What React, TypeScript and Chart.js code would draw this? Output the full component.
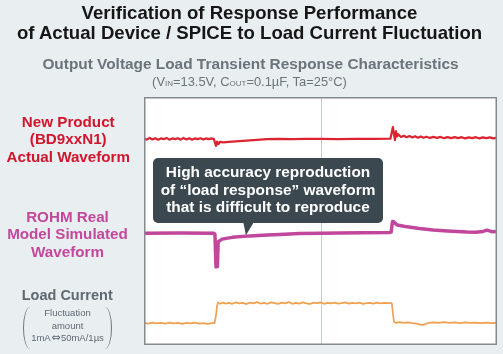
import React, { useEffect, useRef } from "react";
import { Chart, registerables } from "chart.js";

Chart.register(...registerables);

// Oscilloscope screen: 10 horizontal divisions (0..100), vertical position 0..100
const timeRange: [number, number] = [0, 100];
const levelRange: [number, number] = [0, 100];
const centerDivision = 50;

// New Product (BD9xxN1) actual output waveform  [time, level]
const actualWaveform: [number, number][] = [
  [0, 83.3], [0.8, 82.8], [1.6, 83.5], [2.4, 82.9], [3.2, 83.4], [4.0, 82.8], [4.8, 83.3], [5.6, 83.0],
  [6.4, 83.5], [7.2, 82.8], [8.0, 83.3], [8.8, 83.0], [9.6, 83.4], [10.4, 82.8], [11.2, 83.5], [12.0, 82.9],
  [12.8, 83.4], [13.6, 82.8], [14.4, 83.3], [15.2, 83.0], [16.0, 83.4], [16.8, 82.9], [17.6, 83.3], [18.4, 83.0],
  [19.2, 83.3], [19.8, 83.0], [20.1, 81.6], [20.4, 80.3], [20.7, 82.0], [21.1, 81.0], [21.5, 81.9], [22.5, 81.7],
  [24, 81.9], [26, 82.1], [28, 82.3], [30, 82.5], [32, 82.7], [34.8, 83.0], [38, 83.1], [42, 83.0],
  [46, 83.1], [50, 83.1], [55, 83.0], [60, 83.1], [65, 83.1], [69.8, 83.2], [70.2, 85.8], [70.5, 87.9],
  [70.8, 85.2], [71.1, 82.6], [71.4, 86.2], [71.7, 84.1], [72.0, 85.0], [72.8, 83.9], [73.6, 84.4], [74.4, 83.8],
  [75.2, 84.3], [76.0, 83.7], [76.8, 84.2], [77.6, 83.6], [78.4, 84.1], [79.2, 83.6], [80, 84.0], [81, 83.5],
  [82, 83.9], [83, 83.5], [84, 83.9], [85, 83.4], [86, 83.8], [87, 83.4], [88, 83.8], [89, 83.4],
  [90, 83.8], [91, 83.3], [92, 83.7], [93, 83.4], [94, 83.8], [95, 83.3], [96, 83.7], [97, 83.4],
  [98, 83.7], [99, 83.3], [100, 83.6],
];

// ROHM Real Model simulated waveform  [time, level]
const simulatedWaveform: [number, number][] = [
  [0, 45.1], [10, 45.2], [19.8, 45.1], [20.1, 44.6], [20.4, 31.5], [20.8, 31.6], [21.0, 41.6], [22.1, 42.7],
  [25, 43.4], [30, 44.0], [35, 44.4], [38.5, 44.6], [44, 45.0], [50, 45.1], [55.5, 45.2], [62, 45.3],
  [69.7, 45.4], [70.0, 45.5], [70.4, 49.8], [70.8, 49.6], [71.7, 48.4], [74, 47.8], [78, 47.0], [81.9, 46.4],
  [86, 46.0], [91.5, 45.6], [94, 45.5], [96, 45.8], [97.2, 46.3], [98.5, 45.7], [100, 45.8],
];

// Load current step 1mA <-> 50mA  [time, level]
const loadCurrent: [number, number][] = [
  [0, 8.9], [1.2, 8.6], [2.4, 9.0], [3.6, 8.7], [4.8, 8.9], [6, 8.6], [7.2, 9.0], [8.4, 8.7],
  [9.6, 8.9], [10.8, 8.5], [12, 8.9], [13.2, 8.7], [14.4, 9.0], [15.6, 8.6], [16.8, 8.8], [18, 8.5],
  [19.2, 8.8], [20.0, 8.8], [20.4, 12.0], [20.7, 15.8], [21.0, 17.2], [21.6, 16.6], [22.4, 17.1], [23.2, 16.7],
  [24, 17.0], [25, 16.6], [26, 17.2], [27, 16.8], [28, 17.0], [29, 16.5], [30, 17.1], [31, 16.8],
  [32, 17.3], [33, 16.7], [34, 17.0], [35, 16.6], [36, 17.2], [37, 16.9], [38, 16.6], [39, 17.1],
  [40, 16.8], [41, 17.3], [42, 16.6], [43, 17.0], [44, 16.7], [45, 17.2], [46, 16.8], [47, 16.5],
  [48, 17.1], [49, 16.9], [50, 17.2], [51, 16.6], [52, 17.0], [53, 16.8], [54, 17.1], [55, 16.7],
  [56, 16.9], [57, 17.2], [58, 16.7], [59, 17.0], [60, 16.8], [61, 17.1], [62, 16.6], [63, 16.9],
  [64, 17.0], [65, 16.7], [66, 17.1], [67, 16.8], [68, 17.0], [69, 16.9], [70.2, 16.9], [70.5, 13.0],
  [70.8, 9.4], [71.4, 8.9], [72.4, 9.2], [73.6, 8.9], [74.8, 9.1], [76, 8.8], [77.2, 8.6], [78.2, 8.2],
  [79, 8.1], [79.6, 8.4], [80.5, 8.9], [82, 9.1], [83.5, 8.9], [85, 9.2], [86.5, 8.9], [88, 9.1],
  [89.5, 8.8], [91, 9.1], [92.5, 8.9], [94, 9.0], [95.5, 8.8], [97, 9.0], [98.5, 8.8], [100, 8.9],
];

const titleLines = [
  "Verification of Response Performance",
  "of Actual Device / SPICE to Load Current Fluctuation",
];
const subtitle = "Output Voltage Load Transient Response Characteristics";
const actualLabel = ["New Product", "(BD9xxN1)", "Actual Waveform"];
const simulatedLabel = ["ROHM Real", "Model Simulated", "Waveform"];
const loadLabel = "Load Current";
const loadNote = ["Fluctuation", "amount"];
const loadRange = ["1mA", "\u21D4", "50mA/1\u00B5s"];
const calloutLines = [
  "High accuracy reproduction",
  "of \u201Cload response\u201D waveform",
  "that is difficult to reproduce",
];

const FONT = '"Liberation Sans", Arial, Helvetica, sans-serif';

const toPoints = (arr: [number, number][]) => arr.map(([x, y]) => ({ x, y }));

export default function App() {
  const ref = useRef<HTMLCanvasElement | null>(null);

  useEffect(() => {
    document.body.style.margin = "0";
    const frame = {
      id: "scopeFrame",
      beforeDatasetsDraw(chart: any) {
        const { ctx, chartArea: a, scales } = chart;
        ctx.save();
        ctx.fillStyle = "#ffffff";
        ctx.fillRect(a.left, a.top, a.right - a.left, a.bottom - a.top);
        const cx = Math.round(scales.x.getPixelForValue(centerDivision)) + 0.5;
        ctx.strokeStyle = "#c6cbcf";
        ctx.lineWidth = 1;
        ctx.beginPath();
        ctx.moveTo(cx, a.top);
        ctx.lineTo(cx, a.bottom);
        ctx.stroke();
        ctx.restore();
      },
      afterDatasetsDraw(chart: any) {
        const { ctx, chartArea: a } = chart;
        ctx.save();
        ctx.strokeStyle = "#838b91";
        ctx.lineWidth = 1.5;
        ctx.strokeRect(a.left + 0.75, a.top + 0.75, a.right - a.left - 1.5, a.bottom - a.top - 1.5);
        ctx.restore();
      },
    };
    const chart = new Chart(ref.current as HTMLCanvasElement, {
      type: "line",
      data: {
        datasets: [
          {
            label: "Actual",
            data: toPoints(actualWaveform),
            borderColor: "#dc2430",
            borderWidth: 2.2,
          },
          {
            label: "Simulated",
            data: toPoints(simulatedWaveform),
            borderColor: "#c0479b",
            borderWidth: 3.5,
          },
          {
            label: "Load",
            data: toPoints(loadCurrent),
            borderColor: "#f0a04e",
            borderWidth: 1.7,
          },
        ],
      },
      options: {
        animation: false,
        responsive: false,
        devicePixelRatio: 1,
        layout: { padding: { left: 144, right: 6, top: 97, bottom: 9 } },
        scales: {
          x: { type: "linear", min: timeRange[0], max: timeRange[1], display: false },
          y: { type: "linear", min: levelRange[0], max: levelRange[1], display: false },
        },
        elements: {
          point: { radius: 0 },
          line: { tension: 0, borderJoinStyle: "round", borderCapStyle: "round" },
        },
        plugins: { legend: { display: false }, tooltip: { enabled: false }, title: { display: false } },
      },
      plugins: [frame],
    });
    return () => chart.destroy();
  }, []);

  const abs = (s: React.CSSProperties): React.CSSProperties => ({ position: "absolute", ...s });

  return (
    <div
      style={{
        position: "fixed",
        left: 0,
        top: 0,
        width: 503,
        height: 354,
        background: "#e9eef1",
        overflow: "hidden",
        fontFamily: FONT,
      }}
    >
      <canvas ref={ref} width={503} height={354} style={{ position: "absolute", left: 0, top: 0, width: 503, height: 354 }} />

      <div style={abs({ left: -2, top: 2.6, width: 503, textAlign: "center", fontWeight: 700, fontSize: 18.6, lineHeight: "20px", color: "#161616", whiteSpace: "nowrap" })}>
        {titleLines.map((t) => (
          <div key={t}>{t}</div>
        ))}
      </div>
      <div style={abs({ left: -1, top: 54.6, width: 503, textAlign: "center", fontWeight: 700, fontSize: 15.4, lineHeight: "17px", color: "#6a747a", whiteSpace: "nowrap" })}>
        {subtitle}
      </div>
      <div style={abs({ left: -2, top: 74, width: 503, textAlign: "center", fontSize: 12.9, lineHeight: "15px", color: "#6a747a", whiteSpace: "nowrap" })}>
        (V<span style={{ fontSize: "0.62em" }}>IN</span>=13.5V, C<span style={{ fontSize: "0.62em" }}>OUT</span>=0.1µF, Ta=25°C)
      </div>

      <div style={abs({ left: 0, top: 112.8, width: 136.5, textAlign: "center", fontWeight: 700, fontSize: 15.2, lineHeight: "17.5px", color: "#d0152c", whiteSpace: "nowrap" })}>
        {actualLabel.map((t) => (
          <div key={t}>{t}</div>
        ))}
      </div>
      <div style={abs({ left: 0, top: 207.8, width: 135, textAlign: "center", fontWeight: 700, fontSize: 15.2, lineHeight: "17.5px", color: "#c3479b", whiteSpace: "nowrap" })}>
        {simulatedLabel.map((t) => (
          <div key={t}>{t}</div>
        ))}
      </div>
      <div style={abs({ left: 0, top: 287.2, width: 134.5, textAlign: "center", fontWeight: 700, fontSize: 14.5, lineHeight: "17px", color: "#5f6970", whiteSpace: "nowrap" })}>
        {loadLabel}
      </div>
      <div style={abs({ left: 0, top: 307.4, width: 135, textAlign: "center", fontSize: 9.5, lineHeight: "12.3px", color: "#5f6970", whiteSpace: "nowrap" })}>
        {loadNote.map((t) => (
          <div key={t}>{t}</div>
        ))}
        <div>
          {loadRange[0]}
          <span style={{ fontFamily: '"DejaVu Sans", sans-serif', fontSize: 11, margin: "0 0.5px" }}>{loadRange[1]}</span>
          {loadRange[2]}
        </div>
      </div>
      <div style={abs({ left: 22.5, top: 307, width: 7, height: 42, borderLeft: "1.3px solid #6d767c", borderRadius: "100% 0 0 100% / 50% 0 0 50%", boxSizing: "border-box" })} />
      <div style={abs({ left: 104.5, top: 307, width: 7, height: 42, borderRight: "1.3px solid #6d767c", borderRadius: "0 100% 100% 0 / 0 50% 50% 0", boxSizing: "border-box" })} />

      <div style={abs({ left: 153, top: 158.3, width: 230, height: 64.4, background: "#3c4850", borderRadius: 5 })} />
      <div style={abs({ left: 243.3, top: 222.2, width: 10.5, height: 13, background: "#3c4850", clipPath: "polygon(0 0, 100% 0, 25% 100%)" })} />
      <div style={abs({ left: 153, top: 163, width: 230, textAlign: "center", fontWeight: 700, fontSize: 15.4, lineHeight: "17.5px", color: "#ffffff", whiteSpace: "nowrap" })}>
        {calloutLines.map((t) => (
          <div key={t}>{t}</div>
        ))}
      </div>
    </div>
  );
}
